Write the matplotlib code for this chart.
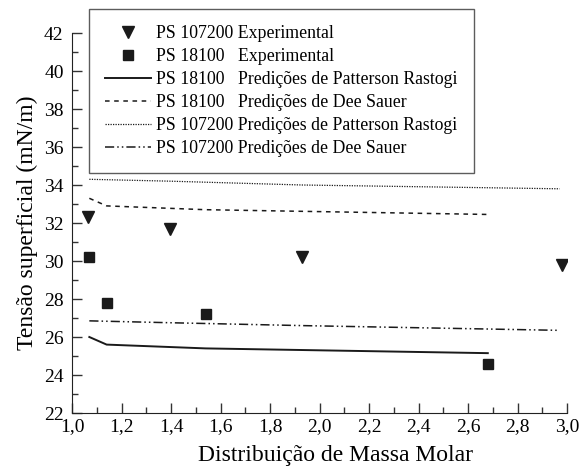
import matplotlib
matplotlib.use("Agg")
import matplotlib.pyplot as plt
from matplotlib.ticker import MultipleLocator, FuncFormatter

plt.rcParams['font.family'] = ['Liberation Serif', 'DejaVu Serif']

# experimental points
x_ps107 = [1.065, 1.395, 1.93, 2.98]
y_ps107 = [32.3, 31.7, 30.2, 29.8]
x_ps18 = [1.07, 1.14, 1.54, 2.68]
y_ps18 = [30.2, 27.8, 27.2, 24.6]

# predictions
y_ps18_pr = [26.0, 25.6, 25.4, 25.15]
y_ps18_ds = [33.3, 32.9, 32.7, 32.45]
x_ps107_pred = [1.07, 1.4, 1.93, 2.97]
y_ps107_pr = [34.3, 34.2, 34.0, 33.8]
y_ps107_ds = [26.85, 26.75, 26.6, 26.35]

fig = plt.figure(figsize=(5.81, 4.67), dpi=100)
ax = fig.add_axes([72/581, 54/467, 495/581, 380/467])

ax.plot(x_ps107, y_ps107, 'v', color='#1a1a1a', ms=8, ls='none',
        label='PS 107200 Experimental')
ax.plot(x_ps18, y_ps18, 's', color='#1a1a1a', ms=7, ls='none',
        label='PS 18100   Experimental')
ax.plot(x_ps18, y_ps18_pr, '-', color='#1a1a1a', lw=1.4,
        label='PS 18100   Predições de Patterson Rastogi')
ax.plot(x_ps18, y_ps18_ds, color='#1a1a1a', lw=1.1, ls=(0, (3, 3)),
        label='PS 18100   Predições de Dee Sauer')
ax.plot(x_ps107_pred, y_ps107_pr, color='#1a1a1a', lw=0.9, ls=(0, (1, 1)),
        label='PS 107200 Predições de Patterson Rastogi')
ax.plot(x_ps107_pred, y_ps107_ds, color='#1a1a1a', lw=1.1, ls=(0, (6, 2, 1, 2, 1, 2)),
        label='PS 107200 Predições de Dee Sauer')

ax.set_xlim(1.0, 3.0)
ax.set_ylim(22, 42)
ax.xaxis.set_major_locator(MultipleLocator(0.2))
ax.xaxis.set_minor_locator(MultipleLocator(0.1))
ax.yaxis.set_major_locator(MultipleLocator(2))
ax.yaxis.set_minor_locator(MultipleLocator(1))
ax.xaxis.set_major_formatter(FuncFormatter(lambda v, p: f"{v:.1f}".replace('.', ',')))
ax.tick_params(which='major', direction='in', length=7, width=1, labelsize=14, color='#333333')
ax.tick_params(which='minor', direction='in', length=4, width=1, color='#333333')
ax.tick_params(axis='x', pad=4)
ax.tick_params(axis='y', pad=6)
for s in ['top', 'right']:
    ax.spines[s].set_visible(False)
for s in ['left', 'bottom']:
    ax.spines[s].set_color('#222222')

ax.set_xlabel('Distribuição de Massa Molar', fontsize=17)
ax.xaxis.set_label_coords(0.533, -0.085)
ax.set_ylabel('Tensão superficial (mN/m)', fontsize=17, labelpad=4)

leg = ax.legend(loc='upper left', bbox_to_anchor=(0.034, 1.062), fontsize=12.8,
                frameon=True, fancybox=False, handlelength=2.6, handletextpad=0.3,
                labelspacing=0.33, borderpad=0.9, borderaxespad=0)
leg.get_frame().set_edgecolor('#333333')
leg.get_frame().set_linewidth(1.0)
leg.set_clip_on(False)

fig.savefig('out.png', dpi=100)
